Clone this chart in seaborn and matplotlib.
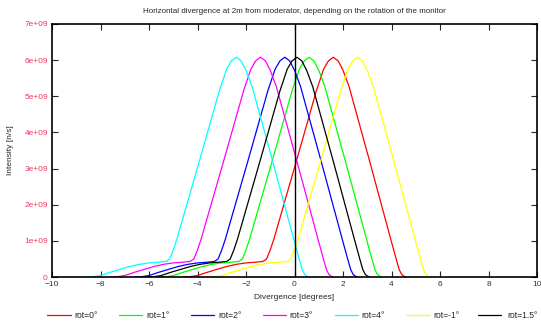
import pandas as pd
import seaborn as sns
import matplotlib.pyplot as plt
from matplotlib.lines import Line2D

# intensity profile (units of 1e9 n/s), same for every rotation
intensity = [0, 0.01, 0.04, 0.13, 0.21, 0.29, 0.35, 0.39, 0.41, 0.43, 0.5, 0.75, 1.05,
             3.26, 5.15, 5.75, 5.98, 6.08, 5.98, 5.72, 5.27, 3.2, 0.97, 0.48, 0.2, 0.07, 0.02, 0]

# divergence [degrees] for each monitor rotation
div_rot0 = [-4.6, -4.3, -4.0, -3.6, -3.2, -2.8, -2.4, -2.0, -1.6, -1.3, -1.15, -1.0, -0.85,
            0.1, 0.9, 1.2, 1.4, 1.6, 1.8, 2.0, 2.25, 3.1, 4.0, 4.2, 4.32, 4.42, 4.52, 4.6]
div_rot1 = [-5.6, -5.3, -5.0, -4.6, -4.2, -3.8, -3.4, -3.0, -2.6, -2.3, -2.15, -2.0, -1.85,
            -0.9, -0.1, 0.2, 0.4, 0.6, 0.8, 1.0, 1.25, 2.1, 3.0, 3.2, 3.32, 3.42, 3.52, 3.6]
div_rot2 = [-6.6, -6.3, -6.0, -5.6, -5.2, -4.8, -4.4, -4.0, -3.6, -3.3, -3.15, -3.0, -2.85,
            -1.9, -1.1, -0.8, -0.6, -0.4, -0.2, 0.0, 0.25, 1.1, 2.0, 2.2, 2.32, 2.42, 2.52, 2.6]
div_rot3 = [-7.6, -7.3, -7.0, -6.6, -6.2, -5.8, -5.4, -5.0, -4.6, -4.3, -4.15, -4.0, -3.85,
            -2.9, -2.1, -1.8, -1.6, -1.4, -1.2, -1.0, -0.75, 0.1, 1.0, 1.2, 1.32, 1.42, 1.52, 1.6]
div_rot4 = [-8.6, -8.3, -8.0, -7.6, -7.2, -6.8, -6.4, -6.0, -5.6, -5.3, -5.15, -5.0, -4.85,
            -3.9, -3.1, -2.8, -2.6, -2.4, -2.2, -2.0, -1.75, -0.9, 0.0, 0.2, 0.32, 0.42, 0.52, 0.6]
div_rotm1 = [-3.6, -3.3, -3.0, -2.6, -2.2, -1.8, -1.4, -1.0, -0.6, -0.3, -0.15, 0.0, 0.15,
             1.1, 1.9, 2.2, 2.4, 2.6, 2.8, 3.0, 3.25, 4.1, 5.0, 5.2, 5.32, 5.42, 5.52, 5.6]
div_rot15 = [-6.1, -5.8, -5.5, -5.1, -4.7, -4.3, -3.9, -3.5, -3.1, -2.8, -2.65, -2.5, -2.35,
             -1.4, -0.6, -0.3, -0.1, 0.1, 0.3, 0.5, 0.75, 1.6, 2.5, 2.7, 2.82, 2.92, 3.02, 3.1]

labels = ['rot=0°', 'rot=1°', 'rot=2°', 'rot=3°', 'rot=4°', 'rot=-1°', 'rot=1.5°']
colors = ['#ff0000', '#00ff00', '#0000ff', '#ff00ff', '#00ffff', '#ffff00', '#000000']
series = [div_rot0, div_rot1, div_rot2, div_rot3, div_rot4, div_rotm1, div_rot15]

rows = []
for lab, xs in zip(labels, series):
    for x, y in zip(xs, intensity):
        rows.append({'Divergence': x, 'Intensity': y * 1e9, 'rot': lab})
df = pd.DataFrame(rows)

sns.set_style('ticks')
plt.rcParams['font.family'] = ['Liberation Sans', 'DejaVu Sans']
fs = 6

W, H = 541, 321
fig = plt.figure(figsize=(W / 100, H / 100), dpi=100)
ax = fig.add_axes([52 / W, 1 - 277 / H, 485 / W, 253 / H])

sns.lineplot(data=df, x='Divergence', y='Intensity', hue='rot', hue_order=labels,
             palette=colors, estimator=None, sort=False, linewidth=0.9, legend=False, ax=ax)
ax.axvline(0, color='black', linewidth=1.0)

ax.set_xlim(-10, 10)
ax.set_ylim(0, 7e9)
ax.set_xticks(range(-10, 11, 2))
ax.set_yticks([i * 1e9 for i in range(8)])
ax.set_yticklabels(['0'] + ['%de+09' % i for i in range(1, 8)])
ax.tick_params(direction='in', length=4, width=0.8, top=True, right=True,
               labelsize=fs, pad=3)
for t in ax.get_yticklabels():
    t.set_color('#ee3860')
for t in ax.get_xticklabels():
    t.set_color('#333333')
for s in ax.spines.values():
    s.set_linewidth(1.2)
    s.set_color('black')

ax.set_xlabel('Divergence [degrees]', fontsize=fs, labelpad=4)
ax.set_ylabel('Intensity [n/s]', fontsize=fs, labelpad=7)
ax.set_title('Horizontal divergence at 2m from moderator, depending on the rotation of the monitor',
             fontsize=5.8, pad=8)

# legend entries laid out in a row under the plot, one box per entry
for i, (lab, col) in enumerate(zip(labels, colors)):
    pad = 0.75 if lab == 'rot=1.5°' else 0.45
    fig.legend(handles=[Line2D([], [], color=col, linewidth=0.9)], labels=[lab],
               loc='center left', bbox_to_anchor=((47.3 + i * 71.8) / W, 1 - 315.7 / H),
               frameon=False, fontsize=6.2, handlelength=2.7, handletextpad=pad,
               borderpad=0, borderaxespad=0)

plt.savefig('out.png', dpi=100)
plt.close()
